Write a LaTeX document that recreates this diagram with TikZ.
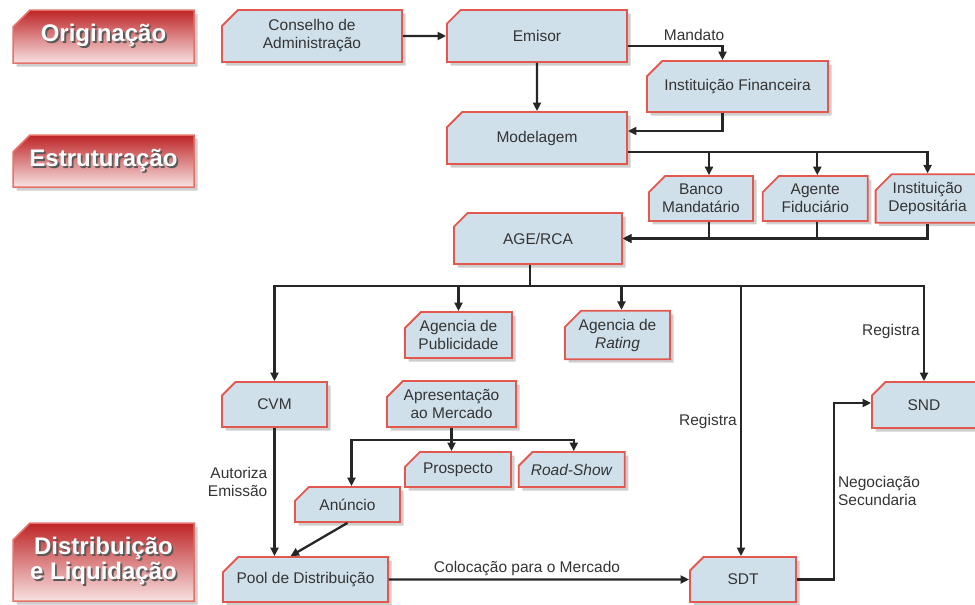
\documentclass[tikz,border=0pt]{standalone}
\usepackage{fontspec}
\setmainfont{Liberation Sans}
\usetikzlibrary{arrows.meta,positioning,shapes.misc,shadows,calc}
\definecolor{DBblue}{RGB}{208,224,234}
\definecolor{DBred}{RGB}{226,88,78}
\definecolor{DBink}{RGB}{52,52,52}
\definecolor{DBline}{RGB}{38,38,38}
\definecolor{DBdark}{RGB}{190,36,38}
\definecolor{DBmid}{RGB}{220,104,104}
\definecolor{DBpale}{RGB}{248,226,226}
% white lettering with a grey offset copy behind it
\newcommand{\embossed}[1]{\makebox[0pt][l]{\hspace{1.8pt}\raisebox{-1.8pt}{\textcolor{black!65}{#1}}}#1}
\tikzset{
  actor/.style={chamfered rectangle,chamfered rectangle corners=north west,
                chamfered rectangle xsep=8pt,chamfered rectangle ysep=8pt,
                draw=DBred,line width=1.8pt,fill=DBblue,text=DBink,align=center,
                inner sep=0pt,font=\fontsize{15.5}{18}\selectfont,
                drop shadow={shadow xshift=3.5pt,shadow yshift=-3.5pt,fill=black!35,opacity=.55}},
  phase/.style={chamfered rectangle,chamfered rectangle corners=north west,
                chamfered rectangle xsep=9pt,chamfered rectangle ysep=8pt,
                draw=DBred!85,line width=1.5pt,top color=DBdark,middle color=DBmid,
                bottom color=DBpale,text=white,align=center,inner sep=0pt,
                font=\fontsize{24}{25}\selectfont\bfseries,minimum width=181,
                drop shadow={shadow xshift=3.5pt,shadow yshift=-3.5pt,fill=black!35,opacity=.55}},
  fl/.style={-{Triangle[length=8.5pt,width=8pt]},line width=2.3pt,draw=DBline},
  ln/.style={line width=2.3pt,draw=DBline},
  note/.style={font=\fontsize{15.5}{18}\selectfont,text=DBink,inner sep=3pt}
}
\begin{document}
\begin{tikzpicture}[x=1pt,y=-1pt]
  \useasboundingbox (0,0) rectangle (975,605);
  % phases
  \node[phase,minimum height=53] (orig) at (103.5,36.5) {\embossed{Originação}};
  \node[phase,minimum height=52] (estr) at (103.5,161) {\embossed{Estruturação}};
  \node[phase,minimum height=78] (distr) at (103.5,562) {\embossed{Distribuição}\\\embossed{e Liquidação}};

  % origination and structuring
  \node[actor,minimum width=180,minimum height=52] (cons) at (312,36) {Conselho de\\Administração};
  \node[actor,minimum width=180,minimum height=52] (emis) at (537,36) {Emisor};
  \node[actor,minimum width=181,minimum height=51] (inst) at (737.5,86.5) {Instituição Financeira};
  \node[actor,minimum width=180,minimum height=52] (model) at (537,138) {Modelagem};
  \node[actor,minimum width=104,minimum height=43] (banco) at (701,198.5) {Banco\\Mandatário};
  \node[actor,minimum width=105,minimum height=43,right=8pt of banco] (agente) {Agente\\Fiduciário};
  \node[actor,minimum width=104,minimum height=43,right=6pt of agente] (depos) {Instituição\\Depositária};
  \node[actor,minimum width=168,minimum height=51] (agerca) at (538,238.5) {AGE/RCA};

  % distribution
  \node[actor,minimum width=107,minimum height=46] (agpub) at (458.5,335) {Agencia de\\Publicidade};
  \node[actor,minimum width=105,minimum height=46] (agrat) at (617.5,335) {Agencia de\\\textit{Rating}};
  \node[actor,minimum width=105,minimum height=45] (cvm) at (274.5,404.5) {CVM};
  \node[actor,minimum width=129,minimum height=46] (apres) at (451.5,404) {Apresentação\\ao Mercado};
  \node[actor,minimum width=106,minimum height=35] (prosp) at (458,469.5) {Prospecto};
  \node[actor,minimum width=106,minimum height=35,right=6pt of prosp] (road) {\textit{Road-Show}};
  \node[actor,minimum width=105,minimum height=35] (anunc) at (347.5,504.5) {Anúncio};
  \node[actor,minimum width=165,minimum height=45] (pool) at (305.5,579.5) {Pool de Distribuição};
  \node[actor,minimum width=106,minimum height=45] (sdt) at (743,579.5) {SDT};
  \node[actor,minimum width=104,minimum height=46] (snd) at (924,405) {SND};

  \coordinate (bus) at ([xshift=-8pt,yshift=-21pt]agerca.south);
  \coordinate (bus2) at ([yshift=-12pt]apres.south);

  \draw[fl] (cons) -- (emis);
  \draw[fl] ([yshift=-10pt]emis.east) -| node[note,above=1pt,pos=.35] {Mandato} ([xshift=-15pt]inst.north);
  \draw[fl] (emis) -- (model);
  \draw[fl] ([xshift=-15pt]inst.south) |- ([yshift=7pt]model.east);
  \draw[fl] ([yshift=-14pt]model.east) -| ([xshift=8pt]banco.north);
  \draw[fl] ([yshift=-14pt]model.east) -| ([xshift=2pt]agente.north);
  \draw[fl] ([yshift=-14pt]model.east) -| (depos.north);
  \draw[fl] ([xshift=8pt]banco.south) |- (agerca.east);
  \draw[fl] ([xshift=2pt]agente.south) |- (agerca.east);
  \draw[fl] (depos.south) |- (agerca.east);

  \draw[ln] ([xshift=-8pt]agerca.south) -- (bus);
  \draw[fl] (bus) -| (cvm.north);
  \draw[fl] (bus) -| (agpub.north);
  \draw[fl] (bus) -| ([xshift=4pt]agrat.north);
  \draw[fl] (bus) -| node[note,left,pos=.75] {Registra} ([xshift=-2pt]sdt.north);
  \draw[fl] (bus) -| node[note,left,pos=.74] {Registra} (snd.north);

  \draw[ln] (apres.south) -- (bus2);
  \draw[fl] (bus2) -| ([xshift=4pt]anunc.north);
  \draw[fl] (bus2) -- (bus2 |- prosp.north);
  \draw[fl] (bus2) -| ([xshift=2pt]road.north);

  \draw[fl] (cvm.south) -- node[note,left,pos=.42,align=right,inner sep=6pt] {Autoriza\\Emissão} (cvm.south |- pool.north);
  \draw[fl] (anunc.south) -- ([xshift=-15pt]pool.north);
  \draw[fl] (pool) -- node[note,above,pos=.46] {Colocação para o Mercado} (sdt);
  \draw[fl] (sdt.east) -- ++(37,0) |- node[note,right,pos=.25,align=left] {Negociação\\Secundaria} ([yshift=2pt]snd.west);
\end{tikzpicture}
\end{document}
